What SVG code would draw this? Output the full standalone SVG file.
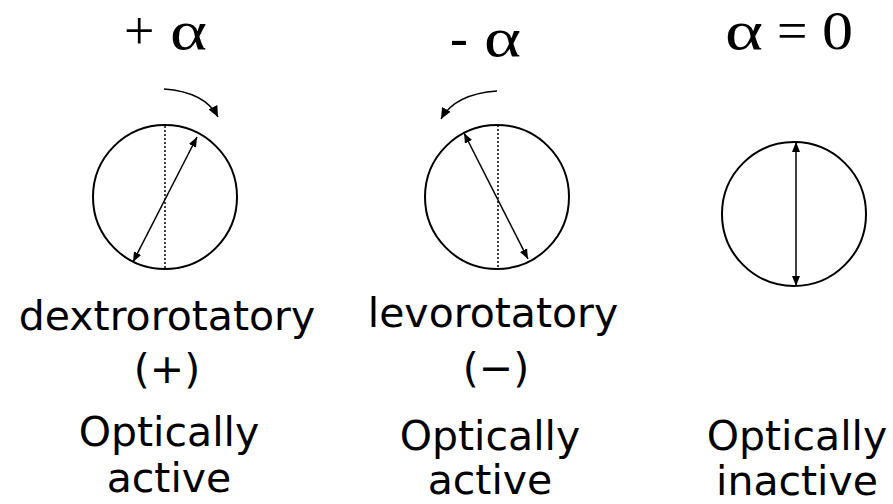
<svg xmlns="http://www.w3.org/2000/svg" width="893" height="504" viewBox="0 0 893 504">
<defs>
<marker id="ah" viewBox="0 0 10 10" refX="10" refY="5" markerWidth="10" markerHeight="10" markerUnits="userSpaceOnUse" orient="auto-start-reverse">
<path d="M0,1 L10,5 L0,9 Z" fill="#000"/>
</marker>
<marker id="ah2" viewBox="0 0 10 10" refX="10" refY="5" markerWidth="11" markerHeight="11" markerUnits="userSpaceOnUse" orient="auto">
<path d="M0,0.5 L10,5 L0,9.5 Z" fill="#000"/>
</marker>
<style>
.c{fill:none;stroke:#000;stroke-width:2}
.dot{stroke:#000;stroke-width:1.5;stroke-dasharray:2,2}
.ln{stroke:#000;stroke-width:1.5;fill:none}
.sym{font-family:"Liberation Serif","DejaVu Serif",serif;font-size:54px;fill:#000}
.lab{font-family:"DejaVu Sans","Verdana",sans-serif;font-size:41px;fill:#000;text-anchor:middle}
</style>
</defs>
<rect width="893" height="504" fill="#fff"/>

<g id="plus">
<text class="sym" x="124" y="49">+</text>
<text class="sym" x="170" y="49" textLength="37" lengthAdjust="spacingAndGlyphs">α</text>
<circle class="c" cx="165" cy="197" r="72"/>
<line class="dot" x1="165" y1="126" x2="165" y2="268"/>
<line class="ln" x1="133" y1="262" x2="197" y2="137" marker-start="url(#ah)" marker-end="url(#ah)"/>
<path class="ln" d="M164,89 Q205,92 218,117" marker-end="url(#ah2)"/>
<text class="lab" x="167" y="330">dextrorotatory</text>
<text class="lab" x="167" y="383">(+)</text>
<text class="lab" x="169" y="446">Optically</text>
<text class="lab" x="169" y="492">active</text>
</g>

<g id="minus">
<text class="sym" x="450" y="56">-</text>
<text class="sym" x="484" y="56" textLength="37" lengthAdjust="spacingAndGlyphs">α</text>
<circle class="c" cx="497" cy="197" r="72"/>
<line class="dot" x1="498" y1="125" x2="498" y2="268"/>
<line class="ln" x1="464" y1="133" x2="528" y2="259" marker-start="url(#ah)" marker-end="url(#ah)"/>
<path class="ln" d="M497,91 Q455,94 441,119" marker-end="url(#ah2)"/>
<text class="lab" x="493" y="327">levorotatory</text>
<text class="lab" x="496" y="382">(−)</text>
<text class="lab" x="490" y="450">Optically</text>
<text class="lab" x="490" y="494">active</text>
</g>

<g id="zero">
<text class="sym" x="725" y="49" textLength="38" lengthAdjust="spacingAndGlyphs">α</text>
<text class="sym" x="777" y="49">=</text>
<text class="sym" x="822" y="49" textLength="31" lengthAdjust="spacingAndGlyphs">0</text>
<circle class="c" cx="794" cy="214" r="72"/>
<line class="ln" x1="796" y1="142" x2="796" y2="286" marker-start="url(#ah)" marker-end="url(#ah)"/>
<text class="lab" x="797" y="450">Optically</text>
<text class="lab" x="797" y="495">inactive</text>
</g>
<g id="connectors"></g>
</svg>
